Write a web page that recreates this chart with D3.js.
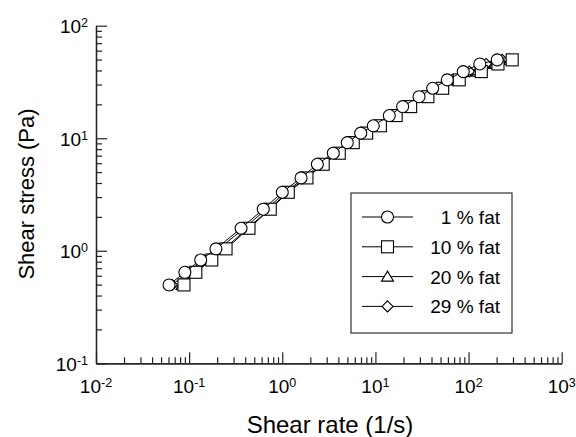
<!DOCTYPE html>
<html>
<head>
<meta charset="utf-8">
<script src="https://cdn.jsdelivr.net/npm/d3@7"></script>
<style>
  body { margin: 0; background: #fff; }
  text { font-family: "Liberation Sans", Arial, Helvetica, sans-serif; fill: #000; }
</style>
</head>
<body>
<div id="chart"></div>
<script>
// shear stress levels (Pa), shared by the four samples
const stress = [0.497, 0.644, 0.828, 1.04, 1.585, 2.34, 3.31, 4.44, 5.87, 7.36, 9.14,
  11.1, 12.9, 15.9, 19.1, 23.4, 27.8, 33.0, 39.1, 45.7, 49.7];
// shear rate (1/s) for each sample
const rate1 = [0.0608, 0.090, 0.133, 0.194, 0.361, 0.625, 1.0, 1.59, 2.38, 3.53, 4.99,
  6.95, 9.49, 14.1, 19.6, 29.4, 41.2, 59.1, 87.7, 132, 203];
const rate10 = [0.088, 0.118, 0.175, 0.249, 0.439, 0.743, 1.16, 1.84, 2.75, 4.09, 5.78,
  8.05, 11.3, 16.7, 23.9, 36.6, 52.7, 79.4, 137, 207, 294];
const rate20 = [0.0838, 0.1155, 0.166, 0.237, 0.428, 0.725, 1.13, 1.80, 2.69, 3.99, 5.64,
  7.86, 11.0, 16.3, 23.3, 34.9, 50.2, 75.6, 124, 192, 280];
const rate29 = [0.0655, 0.0972, 0.143, 0.209, 0.388, 0.673, 1.08, 1.71, 2.56, 3.80, 5.37,
  7.48, 10.2, 15.2, 21.1, 31.6, 45.4, 66.8, 102, 154, 230];

const seriesNames = ["1 % fat", "10 % fat", "20 % fat", "29 % fat"];
const seriesShapes = ["circle", "square", "triangle", "diamond"];
const seriesRates = [rate1, rate10, rate20, rate29];

const xDecades = [-2, -1, 0, 1, 2, 3];
const yDecades = [-1, 0, 1, 2];

const width = 576, height = 437;
const svg = d3.select("#chart").append("svg")
  .attr("width", width)
  .attr("height", height);

const x = d3.scaleLog().domain([0.01, 1000]).range([96, 561.7]);
const y = d3.scaleLog().domain([0.1, 100]).range([363.3, 25.7]);

// minor ticks 2..9 in every decade
function minorTicks(decs) {
  var out = [];
  for (var i = 0; i < decs.length - 1; i++) {
    for (var k = 2; k <= 9; k++) out.push(k * Math.pow(10, decs[i]));
  }
  return out;
}
const xMajor = xDecades.map(d => Math.pow(10, d));
const yMajor = yDecades.map(d => Math.pow(10, d));

function styleAxis(g) {
  g.select(".domain").attr("stroke", "#222").attr("stroke-width", 1.3);
  g.selectAll(".tick line").attr("stroke", "#222").attr("stroke-width", 1.2);
}

svg.append("g").attr("transform", "translate(0," + y.range()[0] + ")")
  .call(d3.axisBottom(x).tickValues(minorTicks(xDecades)).tickSize(-6).tickSizeOuter(0).tickFormat(""))
  .call(styleAxis);
svg.append("g").attr("transform", "translate(0," + y.range()[0] + ")")
  .call(d3.axisBottom(x).tickValues(xMajor).tickSize(-11).tickSizeOuter(0).tickFormat(""))
  .call(styleAxis);
svg.append("g").attr("transform", "translate(" + x.range()[0] + ",0)")
  .call(d3.axisLeft(y).tickValues(minorTicks(yDecades)).tickSize(-6).tickSizeOuter(0).tickFormat(""))
  .call(styleAxis);
svg.append("g").attr("transform", "translate(" + x.range()[0] + ",0)")
  .call(d3.axisLeft(y).tickValues(yMajor).tickSize(-11).tickSizeOuter(0).tickFormat(""))
  .call(styleAxis);

// tick labels as 10 with superscript exponent
function powerLabel(px, py, exp, anchor) {
  var t = svg.append("text")
    .attr("x", px).attr("y", py)
    .attr("text-anchor", anchor)
    .style("font-size", "19px");
  t.append("tspan").text("10");
  t.append("tspan").attr("dy", -6).style("font-size", "12.5px").text(exp);
}
xDecades.forEach(d => powerLabel(x(Math.pow(10, d)), 393, d, "middle"));
yDecades.forEach(d => powerLabel(88, y(Math.pow(10, d)) + 7.5, d, "end"));

// axis titles
svg.append("text")
  .attr("x", 330).attr("y", 433)
  .attr("text-anchor", "middle")
  .style("font-size", "24px")
  .text("Shear rate (1/s)");
svg.append("text")
  .attr("transform", "translate(34,194) rotate(-90)")
  .attr("text-anchor", "middle")
  .style("font-size", "22px")
  .text("Shear stress (Pa)");

// marker symbols
function marker(g, shape, cx, cy) {
  var m;
  if (shape === "circle") {
    m = g.append("circle").attr("cx", cx).attr("cy", cy).attr("r", 6);
  } else if (shape === "square") {
    m = g.append("rect").attr("x", cx - 6).attr("y", cy - 6).attr("width", 12).attr("height", 12);
  } else if (shape === "triangle") {
    m = g.append("path").attr("d", "M" + cx + "," + (cy - 5.5) + "L" + (cx + 6) + "," + (cy + 4.5) + "L" + (cx - 6) + "," + (cy + 4.5) + "Z");
  } else {
    m = g.append("path").attr("d", "M" + cx + "," + (cy - 5.5) + "L" + (cx + 5.5) + "," + cy + "L" + cx + "," + (cy + 5.5) + "L" + (cx - 5.5) + "," + cy + "Z");
  }
  m.attr("fill", "#fff").attr("stroke", "#000").attr("stroke-width", 1.1);
}

const line = d3.line().x(d => x(d[0])).y(d => y(d[1]));

// draw 29% first, circles end on top
for (var s = 3; s >= 0; s--) {
  var pts = seriesRates[s].map((r, i) => [r, stress[i]]);
  var g = svg.append("g");
  g.append("path").datum(pts)
    .attr("d", line)
    .attr("fill", "none")
    .attr("stroke", "#000")
    .attr("stroke-width", 1);
  pts.forEach(p => marker(g, seriesShapes[s], x(p[0]), y(p[1])));
}

// legend
const legend = svg.append("g");
legend.append("rect")
  .attr("x", 351).attr("y", 193)
  .attr("width", 161).attr("height", 140)
  .attr("fill", "#fff")
  .attr("stroke", "#333")
  .attr("stroke-width", 1.2);
seriesNames.forEach((name, i) => {
  var ly = 217 + i * 29.8;
  legend.append("line")
    .attr("x1", 362).attr("x2", 413)
    .attr("y1", ly).attr("y2", ly)
    .attr("stroke", "#000").attr("stroke-width", 1);
  marker(legend, seriesShapes[i], 387.5, ly);
  legend.append("text")
    .attr("x", 500).attr("y", ly + 7)
    .attr("text-anchor", "end")
    .style("font-size", "19px")
    .text(name);
});
</script>
</body>
</html>
